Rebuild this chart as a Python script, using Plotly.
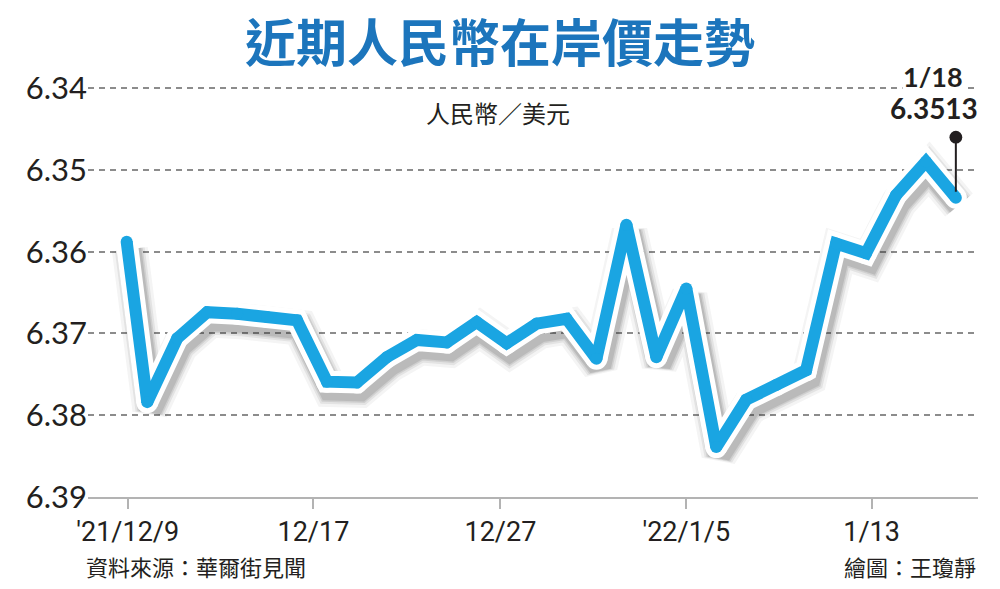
import numpy as np
import pandas as pd
import plotly.graph_objects as go

# ---- data ----
times = [
    "2021-12-09 00:00", "2021-12-09 16:30", "2021-12-10 16:30", "2021-12-13 16:30",
    "2021-12-14 16:30", "2021-12-15 16:30", "2021-12-16 16:30", "2021-12-17 16:30",
    "2021-12-20 16:30", "2021-12-21 16:30", "2021-12-22 16:30", "2021-12-23 16:30",
    "2021-12-24 16:30", "2021-12-27 16:30", "2021-12-28 16:30", "2021-12-29 16:30",
    "2021-12-30 16:30", "2021-12-31 16:30", "2022-01-04 16:30", "2022-01-05 16:30",
    "2022-01-06 16:30", "2022-01-07 16:30", "2022-01-10 16:30", "2022-01-11 16:30",
    "2022-01-12 16:30", "2022-01-13 16:30", "2022-01-14 16:30", "2022-01-17 16:30",
    "2022-01-18 16:30",
]
rates = [
    6.3588, 6.3784, 6.3706, 6.3674,
    6.3676, 6.3680, 6.3684, 6.3759,
    6.3760, 6.3729, 6.3708, 6.3711,
    6.3686, 6.3712, 6.3688, 6.3682,
    6.3731, 6.3567, 6.3729, 6.3645,
    6.3839, 6.3781, 6.3763, 6.3745,
    6.3590, 6.3602, 6.3531, 6.3490,
    6.3534,
]
tick_times = ["2021-12-09 00:50", "2021-12-17 05:40", "2021-12-27 11:30",
              "2022-01-05 16:30", "2022-01-13 21:00"]
tick_labels = ["'21/12/9", "12/17", "12/27", "'22/1/5", "1/13"]
y_ticks = [6.34, 6.35, 6.36, 6.37, 6.38, 6.39]
last_date_label = "1/18"
last_value_label = "6.3513"
holidays = ["2022-01-03"]
view_window = ["2021-12-07 17:00", "2022-01-19 10:15"]

title_text = "近期人民幣在岸價走勢"
unit_text = "人民幣／美元"
source_text = "資料來源：華爾街見聞"
credit_text = "繪圖：王瓊靜"

BLUE = "#1aa5e2"
TITLE_BLUE = "#1c75bc"
DARK = "#231f20"
GRID = "#8c8c8c"
AXIS = "#b3b3b3"


def trading_axis(ts_list, base="2021-12-09"):
    """Trading-day scale (weekends and holidays removed) + intraday fraction."""
    ts = pd.to_datetime(pd.Series(ts_list))
    days = ts.dt.normalize().values.astype("datetime64[D]")
    whole = np.busday_count(np.datetime64(base), days, holidays=holidays)
    frac = ((ts - ts.dt.normalize()) / pd.Timedelta(days=1)).values
    return (whole + frac).tolist()


x_vals = trading_axis(times)
x_ticks = trading_axis(tick_times)
x_range = trading_axis(view_window)
sx = 2.5 / 24          # shadow shift (in trading days)
y_range = [6.39, 6.3395]
dy = 0.0009            # shadow shift (in rate units)

fig = go.Figure()

# invisible base trace on the main axes
fig.add_trace(go.Scatter(
    x=x_vals, y=rates, mode="lines", line=dict(color="rgba(0,0,0,0)", width=1),
    hoverinfo="skip", showlegend=False))

# soft drop shadow (offset overlay axes x2/y2)
for w, a in [(36, 0.05), (30, 0.08), (26, 0.10), (23, 0.12)]:
    fig.add_trace(go.Scatter(
        x=x_vals, y=rates, mode="lines", xaxis="x2", yaxis="y2",
        line=dict(color=f"rgba(40,40,40,{a})", width=w),
        hoverinfo="skip", showlegend=False))

# white outline (overlay x3/y3, same scale as main axes)
fig.add_trace(go.Scatter(
    x=x_vals, y=rates, mode="lines+markers", xaxis="x3", yaxis="y3",
    line=dict(color="white", width=22),
    marker=dict(color="white", size=22, line=dict(width=0)),
    hoverinfo="skip", showlegend=False))
# blue line
fig.add_trace(go.Scatter(
    x=x_vals, y=rates, mode="lines+markers", xaxis="x3", yaxis="y3",
    line=dict(color=BLUE, width=12),
    marker=dict(color=BLUE, size=12, line=dict(width=0)),
    customdata=times, hovertemplate="%{customdata}<br>%{y:.4f}<extra></extra>",
    showlegend=False))

fig.update_layout(
    width=1000, height=589,
    margin=dict(l=88, r=22, t=84, b=92),
    paper_bgcolor="white", plot_bgcolor="white",
    xaxis=dict(
        range=x_range, tickvals=x_ticks, ticktext=tick_labels,
        ticks="outside", ticklen=10, tickwidth=2, tickcolor=AXIS,
        showline=True, linecolor=AXIS, linewidth=2,
        showgrid=False, zeroline=False,
        tickfont=dict(family="Liberation Sans Narrow, Roboto, sans-serif", size=27, color=DARK),
    ),
    xaxis2=dict(overlaying="x", range=[x_range[0] - sx, x_range[1] - sx], visible=False),
    xaxis3=dict(overlaying="x", range=x_range, visible=False),
    yaxis=dict(
        range=y_range, tickvals=y_ticks, ticktext=[f"{v:.2f}" for v in y_ticks],
        showgrid=True, gridcolor=GRID, gridwidth=1.5, griddash="6px,5px",
        zeroline=False, showline=False, ticks="",
        tickfont=dict(family="Lato, sans-serif", size=31, color=DARK),
    ),
    yaxis2=dict(overlaying="y", range=[y_range[0] - dy, y_range[1] - dy], visible=False),
    yaxis3=dict(overlaying="y", range=y_range, visible=False),
    font=dict(family="Noto Sans CJK TC, sans-serif", color=DARK),
)

cjk = "Noto Sans CJK TC, sans-serif"
fig.add_annotation(text=title_text, xref="paper", yref="paper", x=0.463, y=1.1065,
                   xanchor="center", yanchor="middle", showarrow=False,
                   font=dict(family=cjk, size=51, color=TITLE_BLUE, weight="bold"))
fig.add_annotation(text=unit_text, xref="paper", yref="paper", x=0.461, y=0.932,
                   xanchor="center", yanchor="middle", showarrow=False,
                   font=dict(family=cjk, size=24, color=DARK))
fig.add_annotation(text=source_text, xref="paper", yref="paper", x=-0.004, y=-0.167,
                   xanchor="left", yanchor="middle", showarrow=False,
                   font=dict(family=cjk, size=22, color=DARK))
fig.add_annotation(text=credit_text, xref="paper", yref="paper", x=1.0, y=-0.167,
                   xanchor="right", yanchor="middle", showarrow=False,
                   font=dict(family=cjk, size=22, color=DARK))

# end-point callout
fig.add_annotation(x=x_vals[-1], y=rates[-1], xref="x", yref="y", text="", showarrow=True,
                   ax=0, ay=-62, arrowside="start", startarrowhead=6, startarrowsize=1.6,
                   arrowwidth=2, arrowcolor=DARK, standoff=6)
fig.add_annotation(text=last_date_label, xref="paper", yref="paper", x=0.949, y=1.017,
                   xanchor="center", yanchor="middle", showarrow=False, bgcolor="white",
                   borderpad=0,
                   font=dict(family="Lato, sans-serif", size=27, color=DARK, weight="bold"))
fig.add_annotation(text=last_value_label, xref="paper", yref="paper", x=0.951, y=0.943,
                   xanchor="center", yanchor="middle", showarrow=False,
                   font=dict(family="Lato, sans-serif", size=28, color=DARK, weight="bold"))

fig.write_html("out.html", config={"displayModeBar": False},
               post_script="document.body.style.margin='0';")
